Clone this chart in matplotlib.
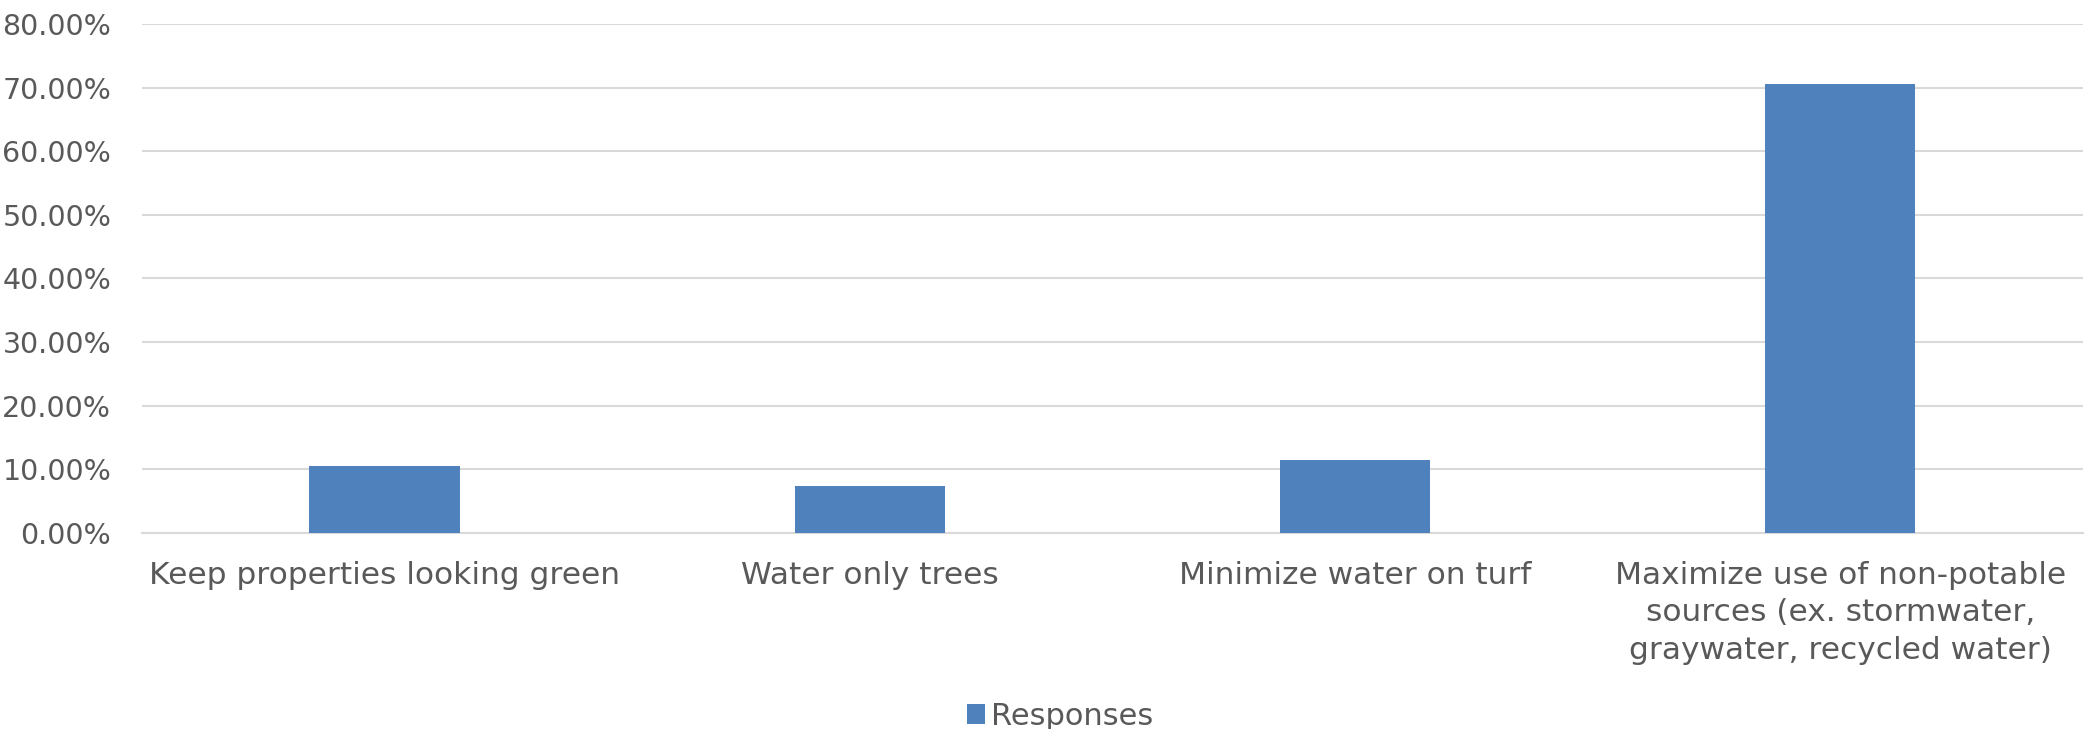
import matplotlib.pyplot as plt
from matplotlib.ticker import FuncFormatter

# Datos
categories = [
    "Keep properties looking green",
    "Water only trees",
    "Minimize water on turf",
    "Maximize use of non-potable\nsources (ex. stormwater,\ngraywater, recycled water)",
]
responses = [0.1052, 0.0735, 0.1147, 0.7055]
yticks = [0.0, 0.1, 0.2, 0.3, 0.4, 0.5, 0.6, 0.7, 0.8]

text_color = "#595959"
bar_color = "#4F81BD"
grid_color = "#D9D9D9"

plt.rcParams['font.family'] = ['DejaVu Sans']

fig = plt.figure(figsize=(20.87, 7.29), dpi=100)
ax = fig.add_axes([0.068, 0.269, 0.930, 0.698])

x = range(len(categories))
ax.bar(x, responses, width=0.31, color=bar_color, label="Responses", zorder=3)

ax.set_xlim(-0.5, len(categories) - 0.5)
ax.set_ylim(0, 0.8)
ax.set_yticks(yticks)
ax.yaxis.set_major_formatter(FuncFormatter(lambda v, _: f"{v * 100:.2f}%"))
ax.set_xticks(list(x))
ax.set_xticklabels(categories, linespacing=1.38)

ax.grid(axis='y', color=grid_color, linewidth=1.5, zorder=0)
for side in ['top', 'right', 'left']:
    ax.spines[side].set_visible(False)
ax.spines['bottom'].set_color(grid_color)
ax.spines['bottom'].set_linewidth(1.5)

ax.tick_params(axis='y', length=0, pad=22, labelsize=20.5, labelcolor=text_color)
ax.tick_params(axis='x', length=0, pad=20, labelsize=22.5, labelcolor=text_color)

leg = fig.legend(loc='lower center', bbox_to_anchor=(0.508, -0.04), frameon=False,
                 fontsize=22, handlelength=0.6, handleheight=0.6, handletextpad=0.2,
                 labelcolor=text_color)

fig.savefig("out.png", dpi=100)
